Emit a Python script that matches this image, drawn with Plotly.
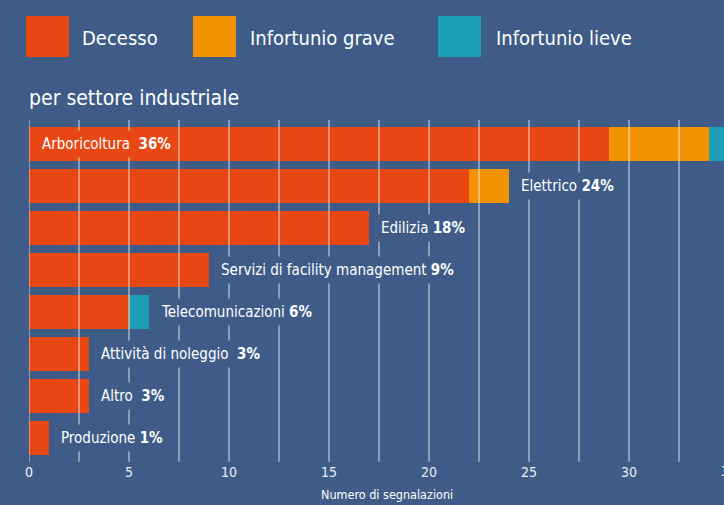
import plotly.graph_objects as go

# --- data -------------------------------------------------------------
sectors = ["Arboricoltura", "Elettrico", "Edilizia", "Servizi di facility management",
           "Telecomunicazioni", "Attività di noleggio", "Altro", "Produzione"]
decesso = [29, 22, 17, 9, 5, 3, 3, 1]
infortunio_grave = [5, 2, 0, 0, 0, 0, 0, 0]
infortunio_lieve = [2, 0, 0, 0, 1, 0, 0, 0]
share_labels = ["36%", "24%", "18%", "9%", "6%", "3%", "3%", "1%"]
label_gap = ["\u00a0\u00a0", " ", " ", " ", " ", "\u00a0\u00a0", "\u00a0\u00a0", " "]
x_ticks = [0, 5, 10, 15, 20, 25, 30, 35]
grid_step = 2.5

# --- styling ----------------------------------------------------------
BG = "#3e5c87"
C_DEC = "#e84612"
C_GRAVE = "#f29200"
C_LIEVE = "#1c9eb7"
FONT = "DejaVu Sans Condensed, Liberation Sans Narrow, Roboto, sans-serif"

W, H = 724, 505
L, R, T, B = 29, 0, 123, 46
PW, PH = W - L - R, H - T - B
UNIT_PX = 20.0  # horizontal pixels per report


def px(xp):
    return (xp - L) / PW


def py(yp):
    return (H - B - yp) / PH


fig = go.Figure()
for name, vals, col in [("Decesso", decesso, C_DEC),
                        ("Infortunio grave", infortunio_grave, C_GRAVE),
                        ("Infortunio lieve", infortunio_lieve, C_LIEVE)]:
    fig.add_trace(go.Bar(y=sectors, x=vals, name=name, orientation="h",
                         marker=dict(color=col, line=dict(width=0)),
                         showlegend=False, hoverinfo="skip"))

x_max = PW / UNIT_PX

# vertical grid lines drawn over the bars
shapes = []
k = 0.0
while k <= x_max + 1e-9:
    shapes.append(dict(type="line", xref="x", yref="paper", x0=k, x1=k,
                       y0=py(462), y1=py(120), layer="above",
                       line=dict(color="rgba(255,255,255,0.5)", width=1.6)))
    k += grid_step

# legend swatches
legend_items = [("Decesso", C_DEC, 26, 80),
                ("Infortunio grave", C_GRAVE, 193, 248),
                ("Infortunio lieve", C_LIEVE, 438, 494)]
annotations = []
for text, col, sx, tx in legend_items:
    shapes.append(dict(type="rect", xref="paper", yref="paper",
                       x0=px(sx), x1=px(sx + 43), y0=py(57), y1=py(16),
                       fillcolor=col, line=dict(width=0), layer="above"))
    annotations.append(dict(xref="paper", yref="paper", x=px(tx), y=py(38),
                            xanchor="left", yanchor="middle", showarrow=False,
                            text=text, font=dict(family=FONT, size=20, color="white")))

# section title
annotations.append(dict(xref="paper", yref="paper", x=px(27), y=py(98),
                        xanchor="left", yanchor="middle", showarrow=False,
                        text="per settore industriale",
                        font=dict(family=FONT, size=21, color="white")))

# axis title
annotations.append(dict(xref="paper", yref="paper", x=px(387), y=py(494),
                        xanchor="center", yanchor="middle", showarrow=False,
                        text="Numero di segnalazioni",
                        font=dict(family=FONT, size=12.5, color="white")))

# last tick label, cut by the right edge of the page
annotations.append(dict(xref="paper", yref="paper", x=px(L + x_ticks[-1] * UNIT_PX),
                        y=py(471), xanchor="center", yanchor="middle", showarrow=False,
                        text=str(x_ticks[-1]),
                        font=dict(family=FONT, size=14, color="#e8edf5")))

# bar labels: inside the first bar, after the bar end for the others
for i, s in enumerate(sectors):
    total = decesso[i] + infortunio_grave[i] + infortunio_lieve[i]
    text = f"{s}{label_gap[i]}<b>{share_labels[i]}</b>"
    if i == 0:
        annotations.append(dict(x=0, y=s, xref="x", yref="y", xanchor="left",
                                xshift=8, showarrow=False, text=text,
                                bgcolor=C_DEC, borderpad=4,
                                font=dict(family=FONT, size=15, color="white")))
    else:
        annotations.append(dict(x=total, y=s, xref="x", yref="y", xanchor="left",
                                xshift=7, showarrow=False, text=text,
                                bgcolor=BG, borderpad=4,
                                font=dict(family=FONT, size=15, color="white")))

fig.update_layout(
    width=W, height=H,
    margin=dict(l=L, r=R, t=T, b=B),
    paper_bgcolor=BG, plot_bgcolor=BG,
    barmode="stack", bargap=0.167,
    shapes=shapes, annotations=annotations,
    xaxis=dict(range=[0, x_max], tickvals=x_ticks, showgrid=False, zeroline=False,
               showline=False, ticks="", ticklabelstandoff=3,
               tickfont=dict(family=FONT, size=14, color="#e8edf5"),
               fixedrange=True),
    yaxis=dict(autorange="reversed", showticklabels=False, showgrid=False,
               zeroline=False, showline=False, ticks="", fixedrange=True),
    font=dict(family=FONT, color="white"),
)

fig.write_html("out.html", config={"displayModeBar": False})
